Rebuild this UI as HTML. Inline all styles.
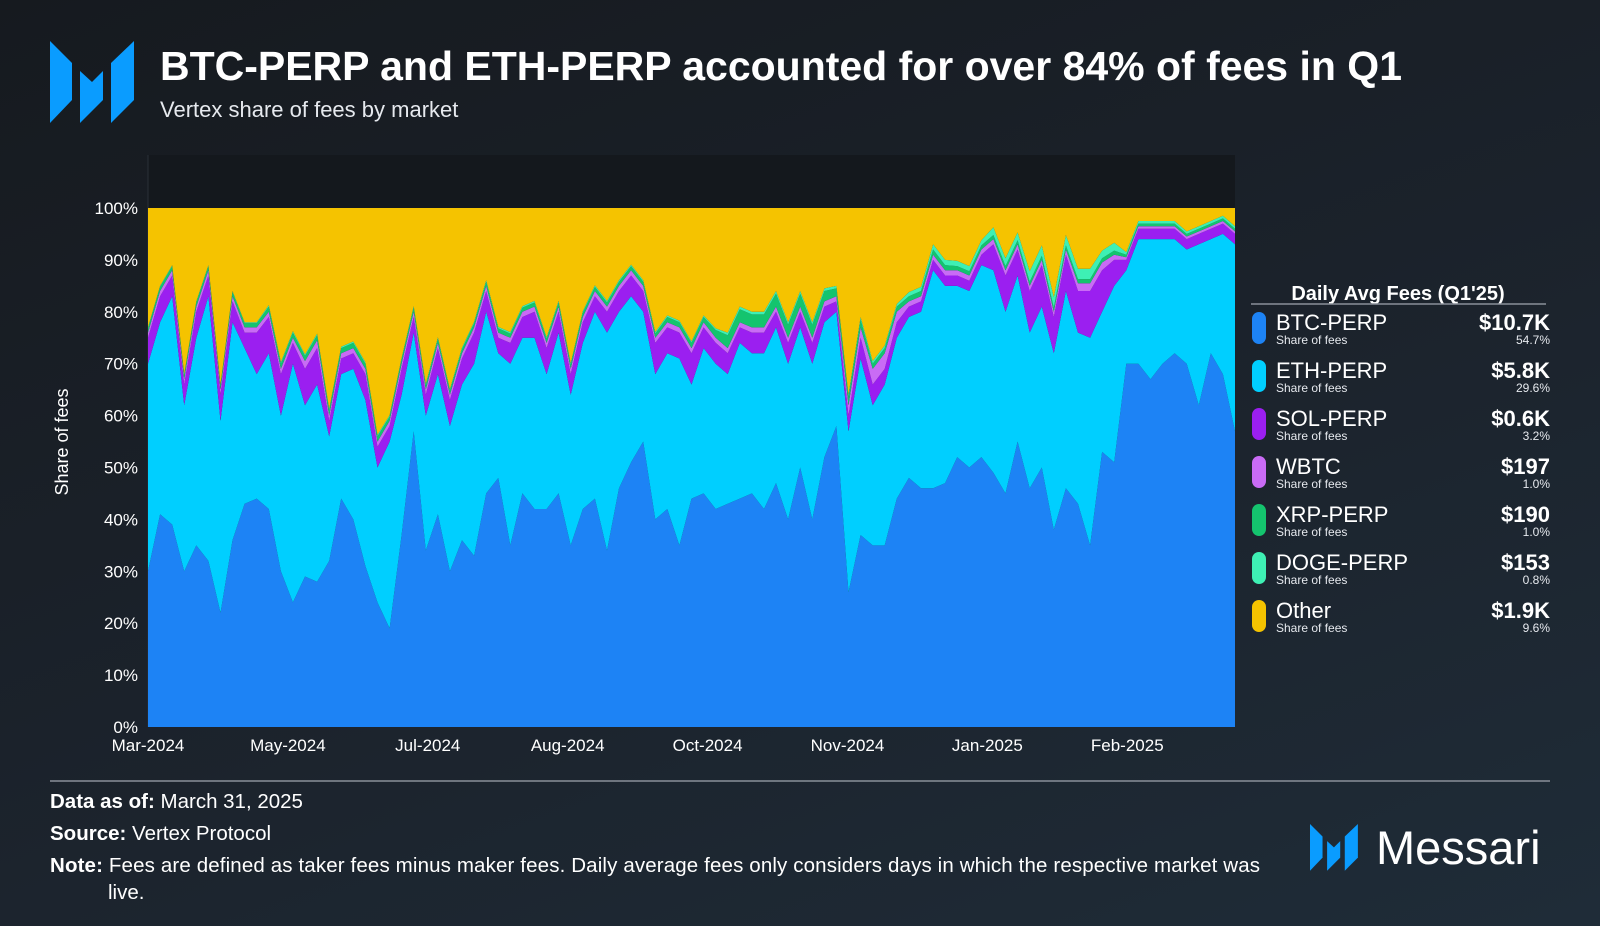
<!DOCTYPE html>
<html><head><meta charset="utf-8">
<style>
html,body{margin:0;padding:0;}
body{width:1600px;height:926px;overflow:hidden;background:linear-gradient(160deg,#161a1f 0%,#1b222b 50%,#1f2c38 100%);font-family:"Liberation Sans",sans-serif;color:#fff;}
svg{display:block;}
</style></head>
<body>
<svg id="chart" width="1600" height="926" xmlns="http://www.w3.org/2000/svg" font-family="Liberation Sans, sans-serif">
  <g fill="#0a9cff">
    <polygon points="50,41 72,63 72,100 50,123"/>
    <polygon points="80,71 92,82 103,71 103,100 80,123"/>
    <polygon points="134,41 111,63 111,123 134,100"/>
  </g>
  <text x="160" y="80" font-size="41" font-weight="bold" fill="#fff" textLength="1242" lengthAdjust="spacing">BTC-PERP and ETH-PERP accounted for over 84% of fees in Q1</text>
  <text x="160" y="117" font-size="22" fill="#e6e9ee">Vertex share of fees by market</text>
  <rect x="148" y="155" width="1087" height="572" fill="#14181d"/>
  <line x1="148" y1="155" x2="148" y2="727" stroke="#2a3038" stroke-width="1"/>
  <g id="areas"></g>
  <g id="yticks"></g>
  <g id="xticks"></g>
  <text transform="translate(68,442) rotate(-90)" text-anchor="middle" font-size="18" fill="#fff">Share of fees</text>

  <g>
    <text x="1398" y="300" text-anchor="middle" font-size="20" font-weight="bold" fill="#fff">Daily Avg Fees (Q1'25)</text>
    <line x1="1251" y1="304" x2="1546" y2="304" stroke="#8a9099" stroke-width="1.5"/>
    <g id="legendRows"></g>
  </g>

  <line x1="50" y1="781" x2="1550" y2="781" stroke="#8a9099" stroke-width="1.5"/>
  <text x="50" y="808" font-size="20.5" fill="#fff"><tspan font-weight="bold">Data as of:</tspan> March 31, 2025</text>
  <text x="50" y="840" font-size="20.5" fill="#fff"><tspan font-weight="bold">Source:</tspan> Vertex Protocol</text>
  <text x="50" y="872" font-size="20.5" fill="#fff" textLength="1210" lengthAdjust="spacing"><tspan font-weight="bold">Note:</tspan> Fees are defined as taker fees minus maker fees. Daily average fees only considers days in which the respective market was</text>
  <text x="108" y="899" font-size="20.5" fill="#fff">live.</text>

  <g>
    <g fill="#0a9cff" transform="translate(1310,824) scale(0.57)">
      <polygon points="0,0 22,22 22,59 0,82"/>
      <polygon points="30,30 42,41 53,30 53,59 30,82"/>
      <polygon points="84,0 61,22 61,82 84,59"/>
    </g>
    <text x="1376" y="864" font-size="47" fill="#fff">Messari</text>
  </g>
</svg>
<script>
const categories = Array.from({length:91},(_,i)=>i);
const btc = [30,41,39,30,35,32,22,36,43,44,42,30,24,29,28,32,44,40,31,24,19,37,57,34,41,30,36,33,45,48,35,45,42,42,45,35,42,44,34,46,51,55,40,42,35,44,45,42,43,44,45,42,47,40,50,40,52,58,26,37,35,35,44,48,46,46,47,52,50,52,49,45,55,46,50,38,46,43,35,53,51,70,70,67,70,72,70,62,72,68,57];
const eth = [40,37,44,32,40,51,37,42,30,24,30,30,46,33,38,24,24,29,32,26,36,27,19,26,27,28,30,37,35,24,35,30,33,26,31,29,32,36,42,34,32,25,28,30,36,22,28,28,25,30,27,30,30,30,27,30,26,22,31,34,27,31,31,31,34,42,38,33,34,37,39,35,32,30,31,34,38,33,40,27,34,18,24,27,24,22,22,31,22,27,36];
const sol = [5,5,4,4,5,4,5,4,3,8,7,8,4,7,7,3,3,3,5,4,3,5,3,4,5,5,5,6,4,3,4,4,5,5,4,4,4,3,4,4,4,4,6,5,5,6,4,4,4,3,4,4,3,4,3,4,3,2,3,4,4,3,3,2,2,2,2,2,2,2,5,7,5,8,8,7,7,8,9,8,5,2,2,2,2,2,2,2,2,2,2];
const wbtc = [1,1,1,1,1,1,1,1,1,1,1,1,1,1.5,1.5,1,1,1,1,1,1,1,1,1,1,1,1,1,1,1,1,1,1,1,1,1,1,1,1,1,1,1,1,1,1,1,1,1,1,1,1,1,1,1,1,1,1,1,2,2,3,3,2,1,1,1,1,1,1,1,1,1,1,1,1,1,1,1.5,1.5,1.5,1,0.5,0.5,0.5,0.5,0.5,0.5,0.5,0.5,0.5,0.5];
const xrp = [0.8,0.8,0.8,0.8,0.8,0.8,0.8,0.8,0.8,0.8,1,1,1,1,1,1,1,1,1,1,0.8,0.8,0.8,0.8,0.8,0.8,0.8,0.8,0.8,0.8,0.8,0.8,0.8,0.8,0.8,0.8,0.8,0.8,0.8,0.8,0.8,0.8,0.8,1,1,1,1,1.5,2.5,2.5,2.5,2.5,2.5,2.5,2.5,2.5,2,1.5,1.5,1.5,1,1,1,1,1,1,1,0.8,0.8,0.8,0.8,0.8,0.8,0.8,0.8,0.8,0.8,0.8,0.8,0.8,0.8,0.5,0.5,0.5,0.5,0.5,0.5,0.5,0.5,0.5,0.5];
const doge = [0.2,0.2,0.2,0.2,0.2,0.2,0.2,0.2,0.2,0.2,0.3,0.3,0.3,0.3,0.3,0.3,0.3,0.3,0.3,0.3,0.3,0.3,0.3,0.3,0.3,0.3,0.3,0.3,0.3,0.3,0.3,0.3,0.3,0.3,0.3,0.3,0.3,0.3,0.3,0.3,0.3,0.3,0.3,0.3,0.3,0.3,0.3,0.3,0.5,0.5,0.5,0.5,0.5,0.5,0.5,0.5,0.5,0.5,0.5,0.5,0.5,0.5,0.5,0.8,0.8,1,1,1,1,1,1.5,1.5,1.5,2,2,2,2,2,2,1.5,1.5,0.5,0.5,0.5,0.5,0.5,0.5,0.5,0.5,0.5,0.5];
const yTickLabels = ["0%","10%","20%","30%","40%","50%","60%","70%","80%","90%","100%"];
const xTickLabels = ["Mar-2024","May-2024","Jul-2024","Aug-2024","Oct-2024","Nov-2024","Jan-2025","Feb-2025"];
const legendNames = ["BTC-PERP","ETH-PERP","SOL-PERP","WBTC","XRP-PERP","DOGE-PERP","Other"];
const legendValues = ["$10.7K","$5.8K","$0.6K","$197","$190","$153","$1.9K"];
const legendPcts = ["54.7%","29.6%","3.2%","1.0%","1.0%","0.8%","9.6%"];

const NS="http://www.w3.org/2000/svg";
const X0=148,X1=1235,Y0=727,Y1=208;
const xs=i=>X0+(X1-X0)*i/(categories.length-1);
const ys=v=>Y0-(Y0-Y1)*Math.min(v,100)/100;
const colors=["#1d83f5","#00cfff","#9b1ff0","#c96bf5","#14c46e","#3ef0b4","#f5c300"];
const other=categories.map((_,i)=>Math.max(0,100-btc[i]-eth[i]-sol[i]-wbtc[i]-xrp[i]-doge[i]));
const series=[btc,eth,sol,wbtc,xrp,doge,other];
const seriesNames=['area-btc-perp','area-eth-perp','area-sol-perp','area-wbtc','area-xrp-perp','area-doge-perp','area-other'];
const areas=document.getElementById('areas');
let base=categories.map(()=>0);
series.forEach((s,k)=>{
  const top=base.map((b,i)=>b+s[i]);
  let d='M'+categories.map((c,i)=>xs(i).toFixed(1)+','+ys(top[i]).toFixed(1)).join('L');
  for(let i=categories.length-1;i>=0;i--) d+='L'+xs(i).toFixed(1)+','+ys(base[i]).toFixed(1);
  d+='Z';
  const p=document.createElementNS(NS,'path');
  p.setAttribute('d',d);p.setAttribute('fill',colors[k]);
  
  
  areas.appendChild(p);
  base=top;
});
const yt=document.getElementById('yticks');
yTickLabels.forEach((l,i)=>{
  const t=document.createElementNS(NS,'text');
  t.setAttribute('x',138);t.setAttribute('y',ys(i*10)+6);
  t.setAttribute('text-anchor','end');t.setAttribute('font-size','17');t.setAttribute('fill','#fff');
  
  
  t.textContent=l;yt.appendChild(t);
});
const xt=document.getElementById('xticks');
const xStep=(X1-X0)/7.77;
xTickLabels.forEach((l,i)=>{
  const t=document.createElementNS(NS,'text');
  t.setAttribute('x',X0+i*xStep);t.setAttribute('y',751);
  t.setAttribute('text-anchor','middle');t.setAttribute('font-size','17');t.setAttribute('fill','#fff');
  
  
  t.textContent=l;xt.appendChild(t);
});
const lr=document.getElementById('legendRows');
legendNames.forEach((n,i)=>{
  const y=312+i*48;
  const g=document.createElementNS(NS,'g');
  
  
  g.innerHTML=`<rect x="1252" y="${y}" width="14" height="32" rx="7" fill="${colors[i]}"/>
  <text x="1276" y="${y+18}" font-size="22" fill="#fff">${n}</text>
  <text x="1276" y="${y+32}" font-size="12" fill="#e6e9ee">Share of fees</text>
  <text x="1550" y="${y+18}" font-size="22" font-weight="bold" text-anchor="end" fill="#fff">${legendValues[i]}</text>
  <text x="1550" y="${y+32}" font-size="12" text-anchor="end" fill="#e6e9ee">${legendPcts[i]}</text>`;
  lr.appendChild(g);
});
</script>
</body></html>
